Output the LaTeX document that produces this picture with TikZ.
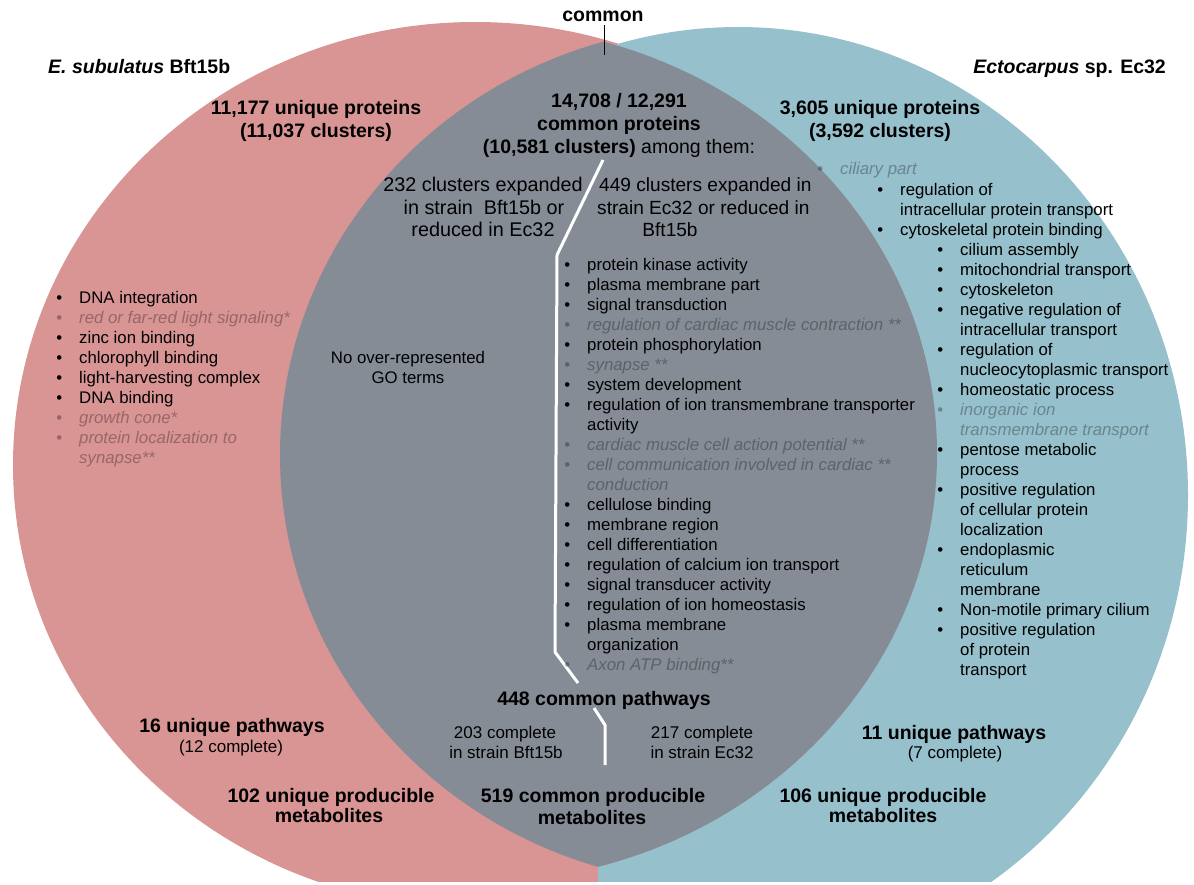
\documentclass[tikz,border=0pt]{standalone}
\usepackage{fontspec}
\setmainfont{Liberation Sans}
\definecolor{pinkc}{RGB}{217,148,148}
\definecolor{bluec}{RGB}{150,192,203}
\definecolor{greyc}{RGB}{134,140,150}
\newcommand\hdr{\fontsize{19.5}{23}\selectfont\bfseries}
\newcommand\rgf{\fontsize{19.8}{23}\selectfont}
\newcommand\rgg{\fontsize{19.1}{23}\selectfont}
\newcommand\smf{\fontsize{17}{20}\selectfont}
\newcommand\lst{\fontsize{16.8}{20}\selectfont}
\begin{document}
\begin{tikzpicture}[x=1pt,y=-1pt,
  hd/.style={font=\hdr, inner sep=0pt, anchor=base},
  rg/.style={font=\rgf, inner sep=0pt, anchor=base},
  rh/.style={font=\rgg, inner sep=0pt, anchor=base west},
  sm/.style={font=\smf, inner sep=0pt, anchor=base},
  ls/.style={font=\lst, inner sep=0pt, anchor=base west},
  bk/.style={ls, execute at begin node={\llap{•\hspace{17pt}}}},
  gy/.style={ls, font=\lst\itshape, text opacity=0.3, execute at begin node={\llap{\upshape •\hspace{17pt}}}},
  bc/.style={ls},
  gc/.style={ls, font=\lst\itshape, text opacity=0.3},
  divider/.style={draw=white, line width=3pt, line join=round}]
\useasboundingbox (0,0) rectangle (1194,884);
% circles
\begin{scope}
  \clip (0,0) rectangle (1194,881);
  \fill[pinkc] (475,465) ellipse [x radius=462pt, y radius=443pt];
  \begin{scope}
    \clip (598,0) rectangle (1194,881);
    \fill[bluec] (738,495) ellipse [x radius=450pt, y radius=468pt];
  \end{scope}
  \begin{scope}
    \clip (727,455) ellipse [x radius=447pt, y radius=430pt];
    \fill[greyc] (475,453.5) ellipse [x radius=462pt, y radius=428.7pt];
  \end{scope}
\end{scope}
% dividers
\coordinate (d1) at (603,160);
\coordinate (d2) at (557,255);
\coordinate (d3) at (555,652);
\coordinate (d4) at (578,683);
\coordinate (d5) at (594,708);
\coordinate (d6) at (605,725);
\coordinate (d7) at (605,765);
\draw[divider] (d1) -- (d2) -- (d3) -- (d4);
\draw[divider] (d5) -- (d6) -- (d7);
% common label
\node[hd] (common) at (603,21) {common};
\coordinate (tip) at (604,55);
\draw[line width=1pt] (604,25) -- (tip);
% titles
\node[hd, anchor=base west] (esub) at (48,73) {\textit{E. subulatus} Bft15b};
\node[hd, anchor=base east] (ecto) at (1166,73) {\textit{Ectocarpus} sp. Ec32};
\node[hd] (u1a) at (316,114) {11,177 unique proteins};
\node[hd] (u1b) at (316,137) {(11,037 clusters)};
\node[hd] (c1) at (619,107) {14,708 / 12,291};
\node[hd] (c2) at (619,130) {common proteins};
\node[hd] (c3) at (619,153) {(10,581 clusters)\mdseries\ among them:};
\node[hd] (u2a) at (880,114) {3,605 unique proteins};
\node[hd] (u2b) at (880,137) {(3,592 clusters)};
% expanded clusters
\node[rg] (e1a) at (483,191) {232 clusters expanded};
\node[rg] (e1b) at (484,214) {in strain\ \ Bft15b or};
\node[rg] (e1c) at (483,236) {reduced in Ec32};
\node[rh] (e2a) at (599,191) {449 clusters expanded in};
\node[rh] (e2b) at (597,214) {strain Ec32 or reduced in};
\node[rh, anchor=base] (e2c) at (670,236) {Bft15b};
\node[ls, anchor=base] (no1) at (408,363) {No over-represented};
\node[ls, anchor=base] (no2) at (408,383) {GO terms};
% left list
\foreach \s/\t [count=\i from 0] in {bk/DNA integration, gy/red or far-red light signaling*, bk/zinc ion binding, bk/chlorophyll binding, bk/light-harvesting complex, bk/DNA binding, gy/growth cone*, gy/protein localization to, gc/synapse**}
  \node[\s] (lf\i) at (79,303+20*\i) {\t};
% middle list
\foreach \s/\t [count=\i from 0] in {bk/protein kinase activity, bk/plasma membrane part, bk/signal transduction, gy/regulation of cardiac muscle contraction **, bk/protein phosphorylation, gy/synapse **, bk/system development, bk/regulation of ion transmembrane transporter, bc/activity, gy/cardiac muscle cell action potential **, gy/cell communication involved in cardiac **, gc/conduction, bk/cellulose binding, bk/membrane region, bk/cell differentiation, bk/regulation of calcium ion transport, bk/signal transducer activity, bk/regulation of ion homeostasis, bk/plasma membrane, bc/organization, gy/Axon ATP binding**}
  \node[\s] (md\i) at (587,270+20*\i) {\t};
% right list
\node[gy] (cil) at (840,174) {ciliary part};
\foreach \s/\t [count=\i from 0] in {bk/regulation of, bc/intracellular protein transport, bk/cytoskeletal protein binding}
  \node[\s] (rt\i) at (900,195+20*\i) {\t};
\foreach \s/\t [count=\i from 0] in {bk/cilium assembly, bk/mitochondrial transport, bk/cytoskeleton, bk/negative regulation of, bc/intracellular transport, bk/regulation of, bc/nucleocytoplasmic transport, bk/homeostatic process, gy/inorganic ion, gc/transmembrane transport, bk/pentose metabolic, bc/process, bk/positive regulation, bc/of cellular protein, bc/localization, bk/endoplasmic, bc/reticulum, bc/membrane, bk/Non-motile primary cilium, bk/positive regulation, bc/of protein, bc/transport}
  \node[\s] (rs\i) at (960,255+20*\i) {\t};
% pathways
\node[hd] (p1) at (604,705) {448 common pathways};
\node[sm] (p2a) at (505,738) {203 complete};
\node[sm] (p2b) at (506,758) {in strain Bft15b};
\node[sm] (p3a) at (702,738) {217 complete};
\node[sm] (p3b) at (702,758) {in strain Ec32};
\node[hd] (p4a) at (232,732) {16 unique pathways};
\node[sm] (p4b) at (231,752) {(12 complete)};
\node[hd] (p5a) at (954,739) {11 unique pathways};
\node[sm] (p5b) at (955,758) {(7 complete)};
% metabolites
\node[hd] (m1a) at (331,802) {102 unique producible};
\node[hd] (m1b) at (329,822) {metabolites};
\node[hd] (m2a) at (593,802) {519 common producible};
\node[hd] (m2b) at (592,824) {metabolites};
\node[hd] (m3a) at (883,802) {106 unique producible};
\node[hd] (m3b) at (883,822) {metabolites};
\end{tikzpicture}
\end{document}
